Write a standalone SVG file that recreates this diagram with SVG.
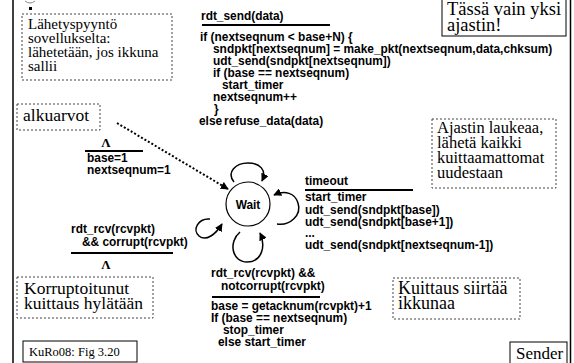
<svg xmlns="http://www.w3.org/2000/svg" width="574" height="363" viewBox="0 0 574 363">
<defs>
<marker id="ah" viewBox="0 0 10 10" refX="9" refY="5" markerWidth="8" markerHeight="8" orient="auto" markerUnits="userSpaceOnUse"><path d="M0,0 L10,5 L0,10 z" fill="#000"/></marker>
<style>
.code{font-family:"Liberation Sans",Arial,sans-serif;font-weight:bold;font-size:11.9px;fill:#000}
.note{font-family:"Liberation Serif","Times New Roman",serif;fill:#000}
.dash{fill:#fff;stroke:#444;stroke-width:1;stroke-dasharray:2,2}
.box{fill:#fff;stroke:#000;stroke-width:1}
.rule{stroke:#000;stroke-width:2}
.border{stroke:#000;stroke-width:1.5}
.loop{fill:none;stroke:#000;stroke-width:1.5;marker-end:url(#ah)}
.lam{font-family:"Liberation Serif","Times New Roman",serif;font-weight:bold;font-size:13px;text-anchor:middle}
</style>
</defs>
<rect width="574" height="363" fill="#fff"/>
<g id="frame">
<line class="border" x1="13" y1="0" x2="13" y2="363"/>
<line class="border" x1="570.5" y1="0" x2="570.5" y2="363"/>
<path d="M25,1 Q30,5 35,1" fill="none" stroke="#888" stroke-width="1"/>
<rect x="29" y="7" width="3" height="3" fill="#000"/>
</g>
<g id="note-request">
<rect class="dash" x="22" y="14" width="150" height="66"/>
<text class="note" font-size="15" x="28" y="29">Lähetyspyyntö</text>
<text class="note" font-size="15" x="28" y="43">sovellukselta:</text>
<text class="note" font-size="15" x="28" y="57">lähetetään, jos ikkuna</text>
<text class="note" font-size="15" x="28" y="71">sallii</text>
</g>
<g id="label-send">
<text class="code" font-size="13" x="201" y="20">rdt_send(data)</text>
<line class="rule" x1="202" y1="25" x2="330" y2="25"/>
<text class="code" x="200" y="41">if (nextseqnum &lt; base+N) {</text>
<text class="code" x="213" y="53">sndpkt[nextseqnum] = make_pkt(nextseqnum,data,chksum)</text>
<text class="code" x="213" y="65">udt_send(sndpkt[nextseqnum])</text>
<text class="code" x="213" y="77">if (base == nextseqnum)</text>
<text class="code" x="222" y="89">start_timer</text>
<text class="code" x="213" y="101">nextseqnum++</text>
<text class="code" x="214" y="113">}</text>
<text class="code" x="199" y="125">else</text>
<text class="code" x="224" y="125">refuse_data(data)</text>
</g>
<g id="note-timer">
<rect class="box" x="442" y="-2" width="124" height="38"/>
<text class="note" font-size="18.5" x="447" y="15">Tässä vain yksi</text>
<text class="note" font-size="18.5" x="447" y="31">ajastin!</text>
</g>
<g id="note-init">
<rect class="dash" x="17" y="104" width="83" height="26"/>
<text class="note" font-size="17.5" x="23" y="121">alkuarvot</text>
</g>
<g id="label-init">
<text class="lam" x="106" y="147">Λ</text>
<line class="rule" x1="85" y1="151" x2="143" y2="151"/>
<text class="code" x="87" y="162">base=1</text>
<text class="code" x="87" y="174">nextseqnum=1</text>
</g>
<g id="note-timeout">
<rect class="dash" x="432" y="119" width="124" height="69"/>
<text class="note" font-size="16.5" x="437" y="133">Ajastin laukeaa,</text>
<text class="note" font-size="16.5" x="437" y="148">lähetä kaikki</text>
<text class="note" font-size="16.5" x="437" y="163">kuittaamattomat</text>
<text class="note" font-size="16.5" x="437" y="178">uudestaan</text>
</g>
<g id="label-timeout">
<text class="code" x="305" y="185">timeout</text>
<line class="rule" x1="305" y1="190" x2="413" y2="190"/>
<text class="code" x="305" y="201">start_timer</text>
<text class="code" x="305" y="214">udt_send(sndpkt[base])</text>
<text class="code" x="305" y="226">udt_send(sndpkt[base+1])</text>
<text class="code" x="305" y="237">...</text>
<text class="code" x="305" y="249">udt_send(sndpkt[nextseqnum-1])</text>
</g>
<g id="wait">
<circle cx="248" cy="204" r="22" fill="#fff" stroke="#000" stroke-width="1.2"/>
<text class="code" font-size="13" x="248" y="209" text-anchor="middle">Wait</text>
</g>
<g id="label-corrupt">
<text class="code" x="71" y="233">rdt_rcv(rcvpkt)</text>
<text class="code" x="82" y="246">&amp;&amp; corrupt(rcvpkt)</text>
<line class="rule" x1="71" y1="253" x2="173" y2="253"/>
<text class="lam" x="106" y="269">Λ</text>
</g>
<g id="note-corrupt">
<rect class="dash" x="17" y="277" width="136" height="41"/>
<text class="note" font-size="17.5" x="24" y="294">Korruptoitunut</text>
<text class="note" font-size="17.5" x="24" y="309">kuittaus hylätään</text>
</g>
<g id="label-ack">
<text class="code" x="211" y="277">rdt_rcv(rcvpkt) &amp;&amp;</text>
<text class="code" x="221" y="290">notcorrupt(rcvpkt)</text>
<line class="rule" x1="212" y1="297" x2="320" y2="297"/>
<text class="code" x="211" y="310">base = getacknum(rcvpkt)+1</text>
<text class="code" x="211" y="322">If (base == nextseqnum)</text>
<text class="code" x="223" y="334">stop_timer</text>
<text class="code" x="218" y="346">else  start_timer</text>
</g>
<g id="note-ack">
<rect class="dash" x="393" y="278" width="127" height="41"/>
<text class="note" font-size="18" x="398" y="294">Kuittaus siirtää</text>
<text class="note" font-size="18" x="398" y="309">ikkunaa</text>
</g>
<g id="note-source">
<rect class="box" x="23" y="341" width="114" height="21"/>
<text class="note" font-size="12.5" x="29" y="356">KuRo08: Fig 3.20</text>
</g>
<g id="note-sender">
<rect class="box" x="510" y="342" width="57" height="22"/>
<text class="note" font-size="17" x="516" y="359">Sender</text>
</g>
<g id="connectors">
<path d="M117,123 L228,189" fill="none" stroke="#000" stroke-width="2" stroke-dasharray="2,2" marker-end="url(#ah)"/>
<path class="loop" d="M234,182 C226,172 236,163 248,163 C260,163 267,170 262,181"/>
<path class="loop" d="M277,224 C290,226 302,215 298,203 C295,193 285,190 274,195"/>
<path class="loop" d="M210,219 C198,218 192,230 199,236 C206,242 216,234 222,224"/>
<path class="loop" d="M240,232 C228,242 232,262 247,262 C262,262 266,246 260,233"/>
</g>
</svg>
